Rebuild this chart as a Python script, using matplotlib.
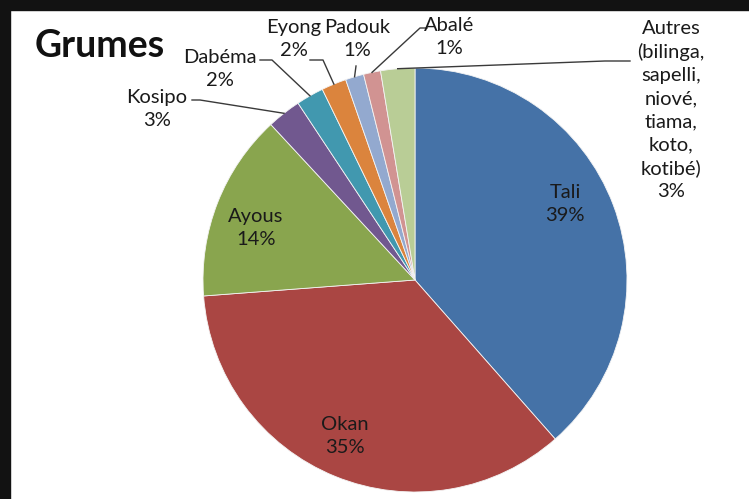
import numpy as np
import matplotlib.pyplot as plt
from matplotlib.patches import Rectangle

plt.rcParams['font.family'] = ['Lato', 'DejaVu Sans']

# data
labels = ['Tali', 'Okan', 'Ayous', 'Kosipo', 'Dabéma', 'Eyong', 'Padouk', 'Abalé',
          'Autres\n(bilinga,\nsapelli,\nniové,\ntiama,\nkoto,\nkotibé)']
values = [38.5, 35.3, 14.3, 2.6, 2.1, 1.9, 1.4, 1.3, 2.6]
pct_text = ['39%', '35%', '14%', '3%', '2%', '2%', '1%', '1%', '3%']
colors = ['#4572A7', '#AA4643', '#89A54E', '#71588F', '#4198AF',
          '#DB843D', '#93A9CF', '#D19392', '#B9CD96']

# layout in pixels of the 749x499 picture
cx, cy, R = 415, 280, 212
label_pos = [(565, 204), (345, 436), (256, 228), (157, 109), (220, 69),
             (294, 39), (357, 39), (449, 37), (671, 110)]
# leader line start / elbow (None for labels sitting inside the pie)
leaders = [None, None, None,
           [(192, 100), (200, 100)],
           [(260, 60), (272, 60)],
           [(310, 60), (323, 60)],
           [(356, 66)],
           [(427, 28), (420, 28)],
           [(630, 61), (605, 61)]]


def px(x, y):
    return (x - cx) / R, (cy - y) / R


fig = plt.figure(figsize=(7.49, 4.99), dpi=100, facecolor='white')
ax = fig.add_axes([0, 0, 1, 1])

wedges, _ = ax.pie(values, colors=colors, startangle=90, counterclock=False,
                   radius=1, wedgeprops=dict(edgecolor='#f4f4f4', linewidth=0.6))
ax.set_xlim(-cx / R, (749 - cx) / R)
ax.set_ylim((cy - 499) / R, cy / R)
ax.set_aspect('auto')

for i, w in enumerate(wedges):
    tx, ty = px(*label_pos[i])
    ax.text(tx, ty, labels[i] + '\n' + pct_text[i], ha='center', va='center',
            fontsize=14.5, color='#1a1a1a', linespacing=1.43)
    if leaders[i] is not None:
        mid = np.deg2rad((w.theta1 + w.theta2) / 2)
        pts = [px(*p) for p in leaders[i]] + [(np.cos(mid), np.sin(mid))]
        ax.plot([p[0] for p in pts], [p[1] for p in pts], color='#3a3a3a', lw=1)

ax.text(*px(35, 46), 'Grumes', ha='left', va='center', fontsize=27,
        fontweight='bold', color='#111111')

# dark frame on top and left
fig.add_artist(Rectangle((0, 1 - 10 / 499), 1, 10 / 499, transform=fig.transFigure,
                         color='#121212', zorder=10))
fig.add_artist(Rectangle((0, 0), 10 / 749, 1, transform=fig.transFigure,
                         color='#121212', zorder=10))

fig.savefig('out.png', dpi=100, facecolor='white')
